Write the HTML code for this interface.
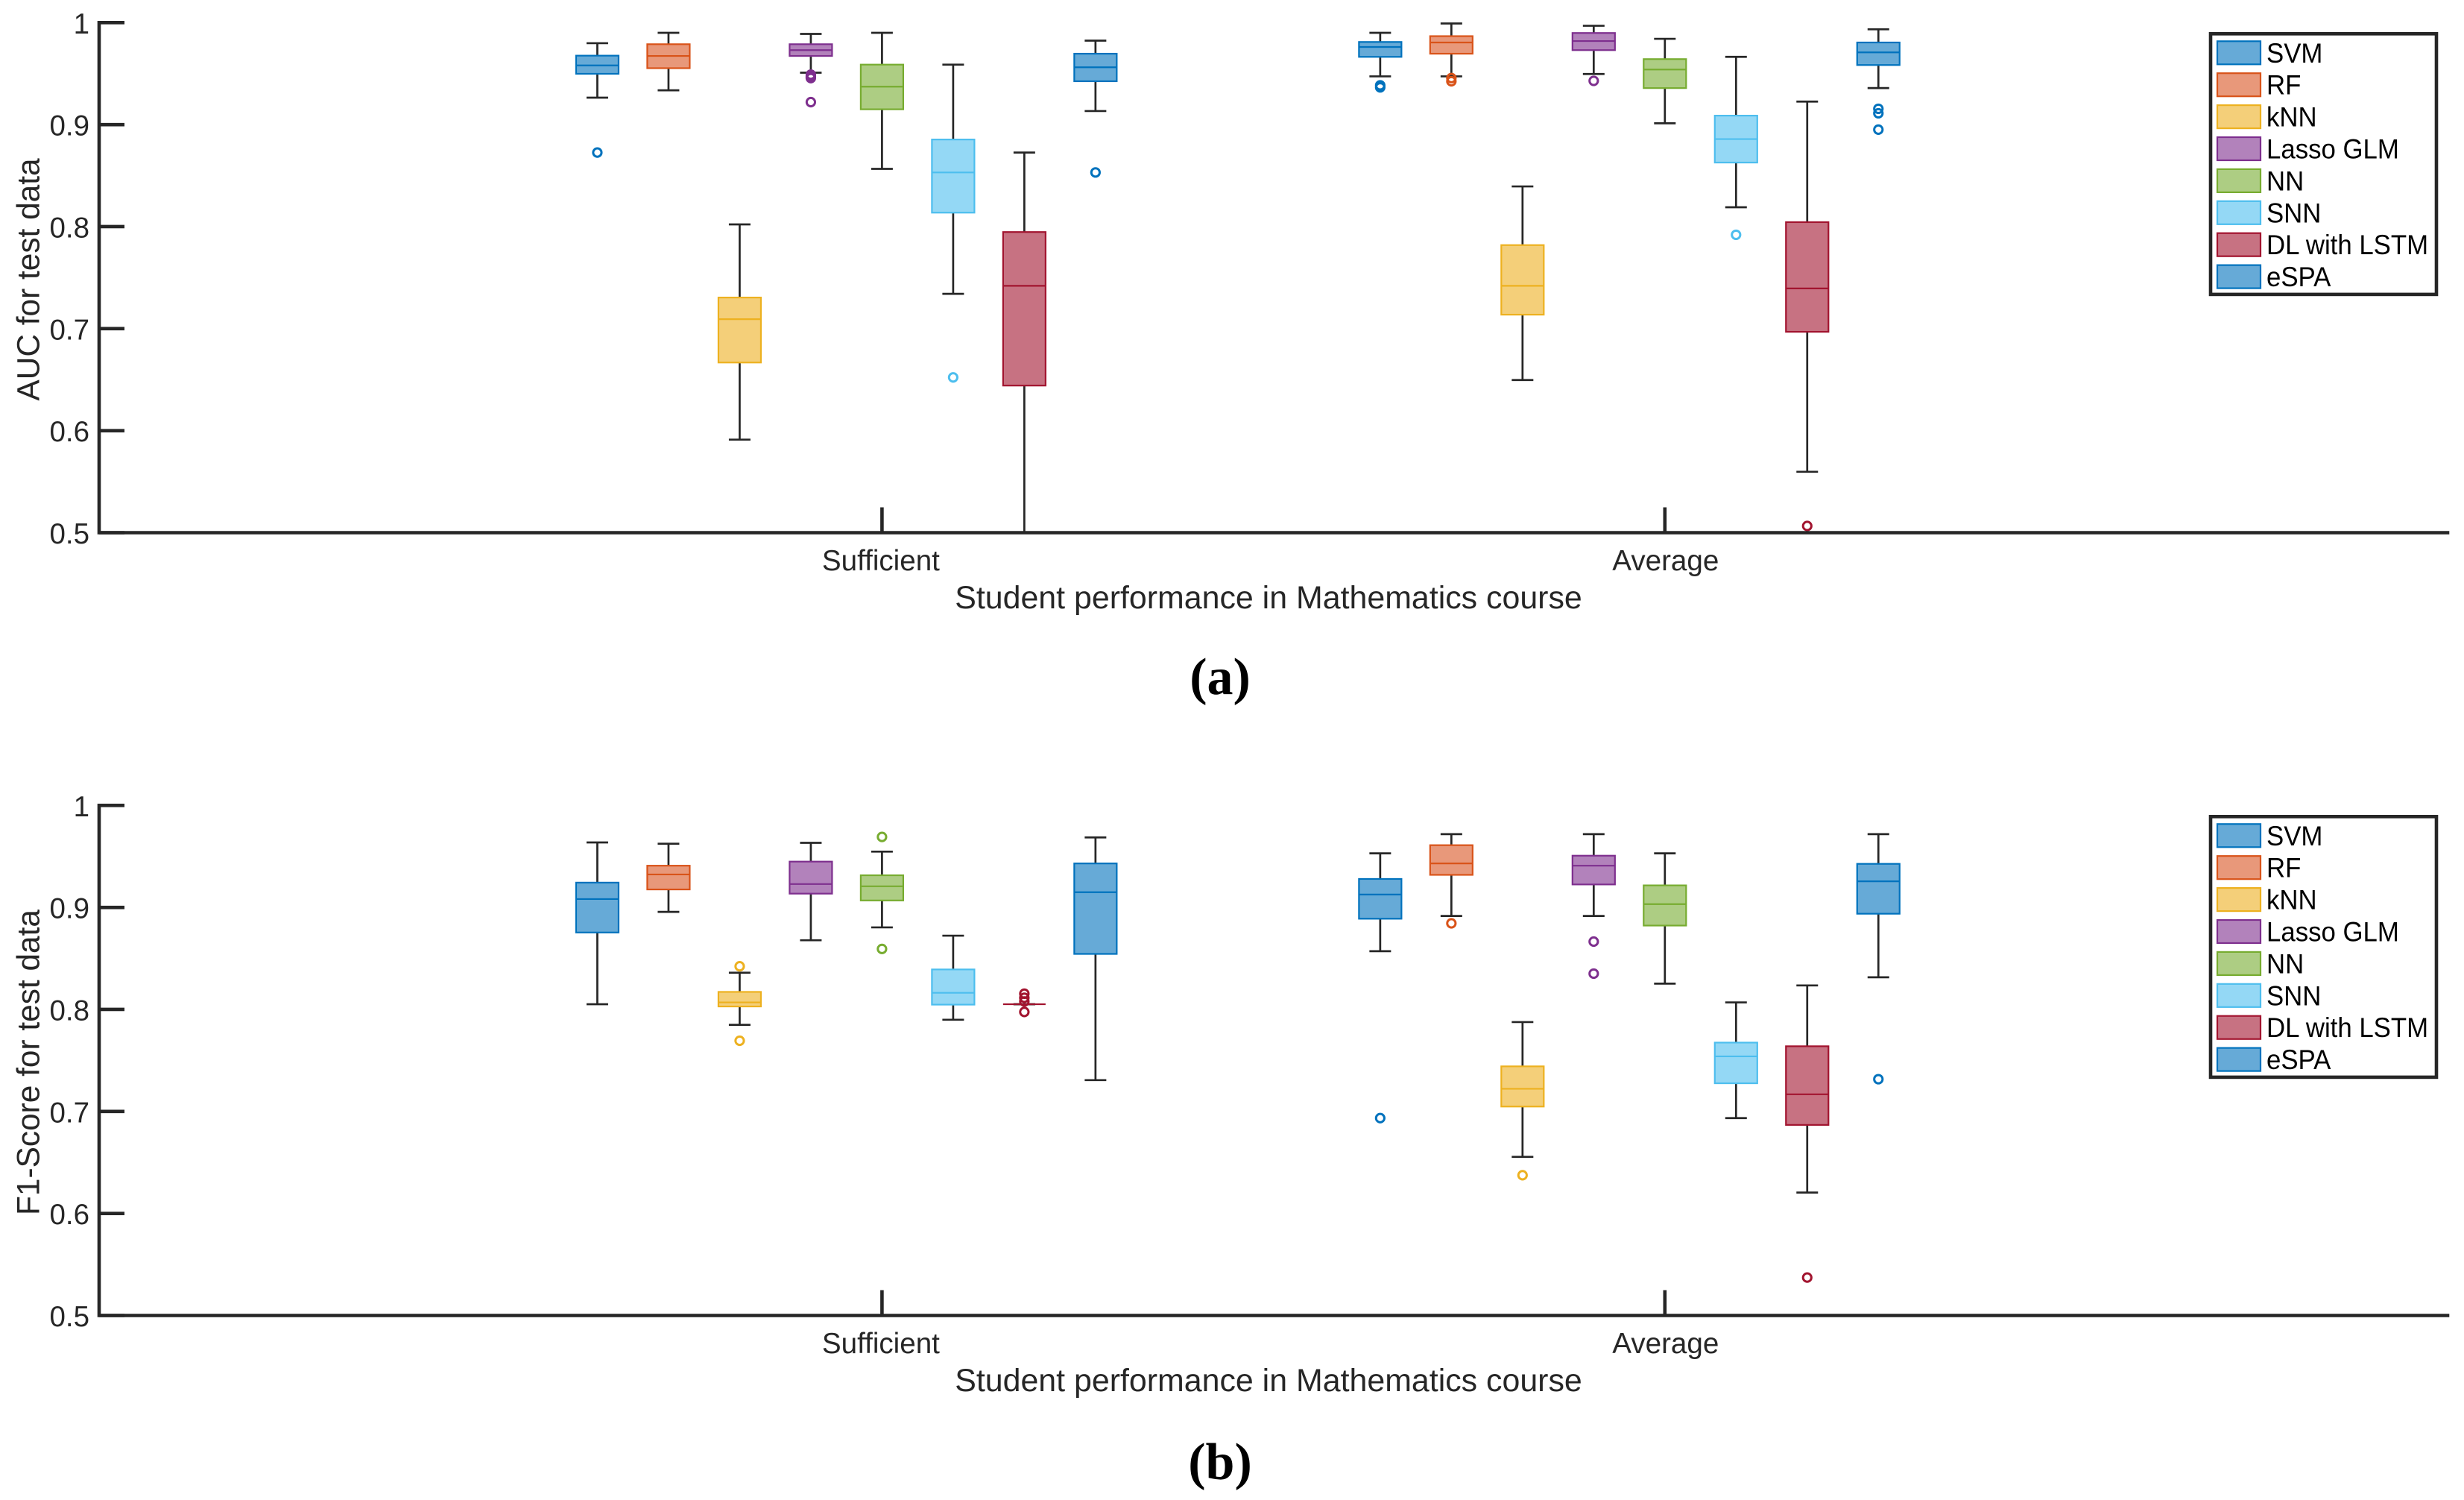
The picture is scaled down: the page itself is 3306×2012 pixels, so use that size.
<!DOCTYPE html>
<html lang="en">
<head>
<meta charset="utf-8">
<title>AUC and F1-Score box plots</title>
<style>
html,body{margin:0;padding:0;background:#fff;}
svg{display:block;}
text{font-family:"Liberation Sans",sans-serif;fill:#262626;}
</style>
</head>
<body>
<svg id="chart" xmlns="http://www.w3.org/2000/svg" width="3306" height="2012" viewBox="0 0 3306 2012"></svg>
<script>
const methods = ['SVM','RF','kNN','Lasso GLM','NN','SNN','DL with LSTM','eSPA'];
const categories = ['Sufficient','Average'];
const yTickValues = [1,0.9,0.8,0.7,0.6,0.5];
const yTickLabels = ['1','0.9','0.8','0.7','0.6','0.5'];

// Each series array: 8 methods for Sufficient, then 8 methods for Average
const aucHigh   = [.9798,.990,.8022,.9889,.990,.9588,.8726,.9823,  .990,.9991,.8394,.9969,.9841,.9664,.9226,.9934];
const aucQ3     = [.9676,.9788,.7305,.9788,.9588,.8854,.7947,.9695,  .981,.9867,.7819,.9898,.9642,.9088,.8044,.9805];
const aucMedian = [.958,.9673,.7093,.973,.9372,.8531,.742,.9562,  .9761,.9805,.742,.9819,.954,.8858,.7394,.9708];
const aucQ1     = [.9498,.9553,.6668,.9673,.915,.8137,.6442,.9425,  .9664,.9695,.7137,.973,.9358,.8628,.6969,.9584];
const aucLow    = [.9264,.9336,.5912,.9509,.8566,.7341,.5,.9133,  .9473,.9473,.6496,.9496,.9013,.819,.5597,.9358];
const aucOutliers = [[.8726],[],[],[.949,.947,.9456,.922],[],[.6522],[],[.8531],
                     [.9385,.9365],[.9456,.9425],[],[.9429],[],[.792],[.5066],[.9155,.9111,.8951]];

const f1High   = [.9637,.9624,.836,.9633,.9547,.8723,.8051,.9686,  .953,.9718,.7876,.9718,.953,.8069,.8235,.9718];
const f1Q3     = [.9243,.9409,.8172,.9449,.9315,.8392,.8051,.9431,  .9279,.961,.7442,.9507,.9216,.7675,.7639,.9427];
const f1Median = [.9082,.9323,.8069,.9229,.9207,.8163,.8051,.9149,  .9126,.9431,.7222,.9409,.9032,.754,.7168,.9256];
const f1Q1     = [.8754,.9176,.8029,.9135,.9068,.8047,.8051,.8544,  .8889,.9319,.7048,.9225,.8822,.7276,.6868,.8938];
const f1Low    = [.8051,.8956,.7849,.8678,.8804,.7899,.8051,.7307,  .8571,.8916,.6555,.8916,.8253,.6935,.6205,.8315];
const f1Outliers = [[],[],[.8423,.7693],[],[.9691,.8593],[],[.8154,.8114,.8078,.7975],[],
                    [.6935],[.8844],[.6375],[.8665,.8351],[],[],[.5372],[.7316]];

const lineColors = ['#0072BD','#D95319','#EDB120','#7E2F8E','#77AC30','#4DBEEE','#A2142F','#0072BD'];
const fillColors = ['#66AAD7','#E8987A','#F4CF79','#B282BB','#ADCD83','#94D8F5','#C77282','#66AAD7'];

const svg = document.getElementById('chart');
const NS = 'http://www.w3.org/2000/svg';
const INK = '#262626';

function mk(parent, tag, attrs, txt) {
  const e = document.createElementNS(NS, tag);
  for (const k in attrs) e.setAttribute(k, attrs[k]);
  if (txt !== undefined) e.textContent = txt;
  parent.appendChild(e);
  return e;
}

// axis functions
const xLeft = 133, xStep = 1050.4, xRight = 3284;
function xScale(cat) { return xLeft + cat * xStep; }
const dodge = 95.45 / 1050;
function yScaleFor(top, bottom) {
  return v => bottom - (v - 0.5) / 0.5 * (bottom - top);
}

function drawPanel(cfg) {
  const y = yScaleFor(cfg.top, cfg.bottom);
  const panel = mk(svg, 'g', {});
  
  

  const marks = mk(panel, 'g', {});
  
  

  const boxW = 57, capW = 29;
  for (let i = 0; i < cfg.high.length; i++) {
    const catIdx = Math.floor(i / methods.length);
    const m = i % methods.length;
    const cx = xScale(catIdx + 1 + (m - 4) * dodge);
    const g = mk(marks, 'g', {});
    
    

    const wAttr = {stroke: INK, 'stroke-width': 2.7, fill: 'none'};
    mk(g, 'line', Object.assign({x1: cx, x2: cx, y1: y(cfg.q3[i]), y2: y(cfg.high[i])}, wAttr));
    mk(g, 'line', Object.assign({x1: cx, x2: cx, y1: y(cfg.q1[i]), y2: y(cfg.low[i])}, wAttr));
    mk(g, 'line', Object.assign({x1: cx - capW / 2, x2: cx + capW / 2, y1: y(cfg.high[i]), y2: y(cfg.high[i])}, wAttr));
    mk(g, 'line', Object.assign({x1: cx - capW / 2, x2: cx + capW / 2, y1: y(cfg.low[i]), y2: y(cfg.low[i])}, wAttr));
    mk(g, 'rect', {x: cx - boxW / 2, y: y(cfg.q3[i]), width: boxW, height: y(cfg.q1[i]) - y(cfg.q3[i]),
      fill: fillColors[m], stroke: lineColors[m], 'stroke-width': 2.2});
    mk(g, 'line', {x1: cx - boxW / 2, x2: cx + boxW / 2, y1: y(cfg.median[i]), y2: y(cfg.median[i]),
      stroke: lineColors[m], 'stroke-width': 2.2});
    for (const o of cfg.outliers[i]) {
      mk(g, 'circle', {cx: cx, cy: y(o), r: 5.6, fill: 'none', stroke: lineColors[m], 'stroke-width': 3});
    }
  }

  // axes
  const axis = mk(panel, 'g', {});
  
  
  const sw = 4.6;
  mk(axis, 'path', {d: 'M' + xLeft + ' ' + cfg.top + 'V' + cfg.bottom + 'H' + xRight, fill: 'none', stroke: INK, 'stroke-width': sw, 'stroke-linecap': 'square'});

  yTickValues.forEach((v, i) => {
    mk(axis, 'line', {x1: xLeft, x2: xLeft + 34, y1: y(v), y2: y(v), stroke: INK, 'stroke-width': sw});
    const t = mk(axis, 'text', {x: 120, y: y(v) + 14.5, 'text-anchor': 'end', 'font-size': 38.5}, yTickLabels[i]);
    
    
  });
  categories.forEach((c, i) => {
    const x = xScale(i + 1);
    mk(axis, 'line', {x1: x, x2: x, y1: cfg.bottom, y2: cfg.bottom - 34, stroke: INK, 'stroke-width': sw});
    const t = mk(axis, 'text', {x: x - 1.5 + i * 2.5, y: cfg.bottom + 50.5, 'text-anchor': 'middle', 'font-size': 38.6}, c);
    
    
  });

  const xt = mk(axis, 'text', {x: 1702, y: cfg.bottom + 101.5, 'text-anchor': 'middle', 'font-size': 42.9}, 'Student performance in Mathematics course');
  
  

  const yt = mk(axis, 'text', {x: 0, y: 0, 'text-anchor': 'middle', 'font-size': 42.4,
    transform: 'translate(52.6 ' + cfg.yTitleCenter + ') rotate(-90)'}, cfg.yTitle);
  
  

  // legend
  const leg = mk(panel, 'g', {});
  
  
  const legTop = cfg.legendTop, rowH = 42.9;
  mk(leg, 'rect', {x: 2966, y: legTop, width: 303, height: 349.6, fill: '#fff', stroke: INK, 'stroke-width': 4.6});
  methods.forEach((name, m) => {
    const ry = legTop + 10 + m * rowH;
    const entry = mk(leg, 'g', {});
    
    
    mk(entry, 'rect', {x: 2975, y: ry, width: 58, height: 31, fill: fillColors[m], stroke: lineColors[m], 'stroke-width': 2.2});
    const t = mk(entry, 'text', {x: 3041, y: ry + 28.5, 'font-size': 37, style: 'fill:#000'}, name);
    t.setAttribute('textLength', (t.getComputedTextLength() * 0.94).toFixed(1));
    t.setAttribute('lengthAdjust', 'spacingAndGlyphs');
  });

  // caption
  const cap = mk(panel, 'text', {x: 1637, y: cfg.captionY, 'text-anchor': 'middle', 'font-size': 70, 'font-weight': 700,
    style: 'font-family:\'Liberation Serif\',serif;fill:#000'}, cfg.caption);
  
  
}

drawPanel({name: 'auc', top: 30.3, bottom: 714.5, yTitle: 'AUC for test data', yTitleCenter: 375,
  legendTop: 45.3, caption: '(a)', captionY: 931,
  high: aucHigh, q3: aucQ3, median: aucMedian, q1: aucQ1, low: aucLow, outliers: aucOutliers});
drawPanel({name: 'f1-score', top: 1080.3, bottom: 1764.5, yTitle: 'F1-Score for test data', yTitleCenter: 1425,
  legendTop: 1095.3, caption: '(b)', captionY: 1984,
  high: f1High, q3: f1Q3, median: f1Median, q1: f1Q1, low: f1Low, outliers: f1Outliers});
</script>
</body>
</html>
